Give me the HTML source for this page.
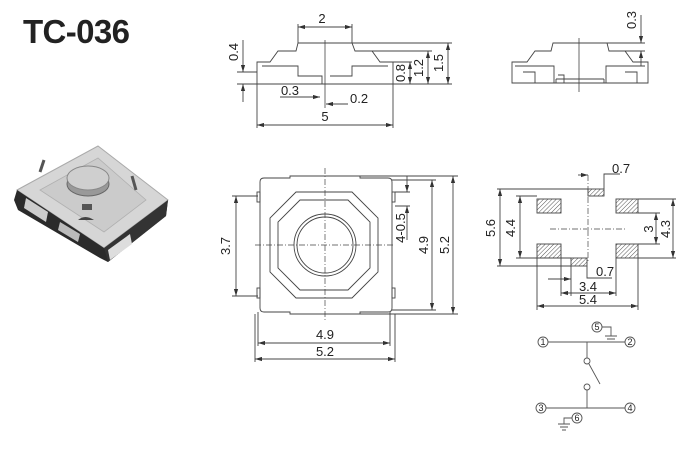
<!DOCTYPE html>
<html><head><meta charset="utf-8"><style>
html,body{margin:0;padding:0;background:#fff;}
svg{display:block;}
text{font-family:"Liberation Sans",sans-serif;fill:#222;}
</style></head><body>
<svg width="700" height="450" viewBox="0 0 700 450" xmlns="http://www.w3.org/2000/svg">
<defs>
<marker id="a" viewBox="0 0 10 6" refX="10" refY="3" markerWidth="8" markerHeight="5" orient="auto-start-reverse"><path d="M0,0L10,3L0,6z" fill="#333"/></marker>
<pattern id="h" width="3" height="3" patternUnits="userSpaceOnUse" patternTransform="rotate(45)"><rect width="3" height="3" fill="#fff"/><line x1="0" y1="0" x2="0" y2="3" stroke="#555" stroke-width="1"/></pattern>
</defs>
<text x="23" y="43" font-size="33" font-weight="bold" textLength="107" fill="#111">TC-036</text>

<!-- photo -->
<g>
<polygon points="14,200 17,190 98,146 168,200 166,216 108,262 100,258 18,210" fill="#2a2a2a"/>
<polygon points="17,190 98,146 168,200 104,248" fill="#d6d6d6" stroke="#aaa"/>
<polygon points="40,190 98,158 146,200 104,232" fill="#cbcbcb" stroke="#b0b0b0" stroke-width="0.8"/>
<ellipse cx="88" cy="184" rx="21" ry="12" fill="#999" stroke="#666"/>
<ellipse cx="88" cy="178" rx="21" ry="12" fill="#cfcfcf" stroke="#888"/>
<polygon points="104,248 168,200 166,216 108,262" fill="#333"/>
<polygon points="17,190 104,248 108,262 18,206" fill="#2b2b2b"/>
<polygon points="108,250 130,234 132,244 110,260" fill="#ddd"/>
<polygon points="26,198 48,212 46,222 24,208" fill="#ccc"/>
<polygon points="60,222 80,234 78,242 58,230" fill="#bbb"/>
<rect x="82" y="204" width="10" height="6" fill="#555"/>
<path d="M78,220 Q85,214 94,220 Z" fill="#444"/>
<path d="M40,172 L44,160 M132,176 L136,190" stroke="#555" stroke-width="3"/>
</g>

<g stroke="#444" stroke-width="0.9" fill="none">
<!-- side view -->
<path d="M298,43 H352 L355,51 H372 L380,62 H393 V84 H257 V62 H270 L278,51 H296 Z"/>
<path d="M262,66 H298 V76 H322 V84 M388,66 H352 V76 H330"/>
<path d="M352,43 H452 M372,51 H432 M393,62 H412 M393,84 H452"/>
<line x1="325" y1="40" x2="325" y2="108" stroke-width="0.8"/>
<line x1="298" y1="24" x2="298" y2="43"/><line x1="352" y1="24" x2="352" y2="43"/>
<line x1="298" y1="27" x2="352" y2="27" marker-start="url(#a)" marker-end="url(#a)"/>
<line x1="448" y1="43" x2="448" y2="84" marker-start="url(#a)" marker-end="url(#a)"/>
<line x1="428" y1="51" x2="428" y2="84" marker-start="url(#a)" marker-end="url(#a)"/>
<line x1="410" y1="62" x2="410" y2="84" marker-start="url(#a)" marker-end="url(#a)"/>
<path d="M237,72 H257 M237,84 H257"/>
<line x1="243" y1="40" x2="243" y2="72" marker-end="url(#a)"/>
<line x1="243" y1="102" x2="243" y2="84" marker-end="url(#a)"/>
<line x1="280" y1="97" x2="320" y2="97" marker-end="url(#a)"/>
<line x1="348" y1="104" x2="326" y2="104" marker-end="url(#a)"/>
<line x1="257" y1="84" x2="257" y2="128"/><line x1="393" y1="84" x2="393" y2="128"/>
<line x1="257" y1="125" x2="393" y2="125" marker-start="url(#a)" marker-end="url(#a)"/>

<!-- right side view -->
<path d="M553,43 H607 L609,51 H625 L633,62 H648 V83 H512 V62 H527 L535,51 H551 Z"/>
<path d="M515,66 H554 V83 M645,66 H606 V83 M523,72 H535 V83 M625,72 H637 V83 M556,79 H604 M556,83 V79 M604,83 V79 M558,75 H564 V83"/>
<line x1="579" y1="38" x2="579" y2="92" stroke-width="0.8"/>
<path d="M607,43 H645 M625,51 H645"/>
<line x1="641" y1="15" x2="641" y2="43" marker-end="url(#a)"/>
<line x1="641" y1="66" x2="641" y2="51" marker-end="url(#a)"/>

<!-- top view -->
<path d="M264,178 H290 V176 H360 V178 H388 Q392,178 392,182 V308 Q392,312 388,312 H360 V314 H290 V312 H264 Q260,312 260,308 V182 Q260,178 264,178 Z"/>
<rect x="257" y="192" width="3" height="10"/><rect x="257" y="288" width="3" height="10"/>
<rect x="392" y="192" width="3" height="10"/><rect x="392" y="288" width="3" height="10"/>
<polygon points="296,192 352,192 378,218 378,272 352,298 296,298 270,272 270,218"/>
<polygon points="300,200 348,200 370,222 370,268 348,290 300,290 278,268 278,222"/>
<circle cx="325" cy="245" r="31"/><circle cx="325" cy="245" r="28"/>
<path d="M325,168 V322 M255,245 H395" stroke-dasharray="6,2,1,2" stroke-width="0.7"/>
<path d="M232,196 H258 M232,296 H258"/>
<line x1="236" y1="196" x2="236" y2="296" marker-start="url(#a)" marker-end="url(#a)"/>
<path d="M392,180 H436 M392,310 H436 M360,176 H458 M360,314 H458 M395,192 H410 M395,206 H410"/>
<line x1="432" y1="180" x2="432" y2="310" marker-start="url(#a)" marker-end="url(#a)"/>
<line x1="453" y1="176" x2="453" y2="314" marker-start="url(#a)" marker-end="url(#a)"/>
<line x1="407" y1="176" x2="407" y2="192" marker-end="url(#a)"/>
<line x1="407" y1="240" x2="407" y2="206" marker-end="url(#a)"/>
<path d="M258,312 V346 M390,312 V346 M255,314 V362 M395,314 V362"/>
<line x1="258" y1="343" x2="390" y2="343" marker-start="url(#a)" marker-end="url(#a)"/>
<line x1="255" y1="359" x2="395" y2="359" marker-start="url(#a)" marker-end="url(#a)"/>

<!-- footprint -->
<g fill="url(#h)">
<rect x="537" y="199" width="24" height="14"/><rect x="616" y="199" width="22" height="14"/>
<rect x="537" y="244" width="24" height="14"/><rect x="616" y="244" width="22" height="14"/>
<rect x="588" y="189" width="16" height="7"/><rect x="571" y="258" width="16" height="8"/>
</g>
<path d="M588,175 V262 M550,229 H625" stroke-dasharray="6,2,1,2" stroke-width="0.7"/>
<path d="M497,189 H588 M516,196 H537 M516,258 H571 M497,266 H571 M638,199 H676 M638,213 H660 M638,244 H660 M638,258 H676"/>
<path d="M604,189 V174 H620 M571,266 V296 M587,266 V278 H612 M537,258 V310 M561,258 V296 M616,258 V296 M638,258 V310"/>
<line x1="500" y1="189" x2="500" y2="266" marker-start="url(#a)" marker-end="url(#a)"/>
<line x1="520" y1="196" x2="520" y2="258" marker-start="url(#a)" marker-end="url(#a)"/>
<line x1="673" y1="199" x2="673" y2="258" marker-start="url(#a)" marker-end="url(#a)"/>
<line x1="656" y1="213" x2="656" y2="244" marker-start="url(#a)" marker-end="url(#a)"/>
<line x1="578" y1="175" x2="588" y2="175" marker-end="url(#a)"/>
<line x1="548" y1="279" x2="571" y2="279" marker-end="url(#a)"/>
<line x1="561" y1="293" x2="616" y2="293" marker-start="url(#a)" marker-end="url(#a)"/>
<line x1="537" y1="306" x2="638" y2="306" marker-start="url(#a)" marker-end="url(#a)"/>

<!-- schematic -->
<g stroke="#555">
<circle cx="543" cy="342" r="5"/><circle cx="630" cy="342" r="5"/>
<circle cx="541" cy="408" r="5"/><circle cx="630" cy="408" r="5"/>
<circle cx="597" cy="327" r="5"/><circle cx="577" cy="418" r="5"/>
<path d="M548,342 H625 M546,408 H625 M587,342 V358 M587,390 V408"/>
<circle cx="587" cy="361" r="3"/><circle cx="587" cy="387" r="3"/>
<path d="M589,364 L600,384"/>
<path d="M602,327 H611 V336 M605,336 H617 M607,339 H615 M609,342 H613"/>
<path d="M572,418 H564 V424 M558,424 H570 M560,427 H568 M562,430 H566"/>
</g>
</g>

<g font-size="13">
<text x="322" y="23" text-anchor="middle">2</text>
<text x="290" y="95" text-anchor="middle">0.3</text>
<text x="350" y="103">0.2</text>
<text x="325" y="121" text-anchor="middle">5</text>
<text transform="translate(238,52) rotate(-90)" text-anchor="middle">0.4</text>
<text transform="translate(443,63) rotate(-90)" text-anchor="middle">1.5</text>
<text transform="translate(423,68) rotate(-90)" text-anchor="middle">1.2</text>
<text transform="translate(405,73) rotate(-90)" text-anchor="middle">0.8</text>
<text transform="translate(636,20) rotate(-90)" text-anchor="middle">0.3</text>
<text transform="translate(230,246) rotate(-90)" text-anchor="middle">3.7</text>
<text transform="translate(405,228) rotate(-90)" text-anchor="middle">4-0.5</text>
<text transform="translate(428,245) rotate(-90)" text-anchor="middle">4.9</text>
<text transform="translate(449,245) rotate(-90)" text-anchor="middle">5.2</text>
<text x="325" y="339" text-anchor="middle">4.9</text>
<text x="325" y="356" text-anchor="middle">5.2</text>
<text x="612" y="173">0.7</text>
<text x="596" y="276">0.7</text>
<text x="588" y="291" text-anchor="middle">3.4</text>
<text x="588" y="304" text-anchor="middle">5.4</text>
<text transform="translate(495,228) rotate(-90)" text-anchor="middle">5.6</text>
<text transform="translate(515,228) rotate(-90)" text-anchor="middle">4.4</text>
<text transform="translate(653,229) rotate(-90)" text-anchor="middle">3</text>
<text transform="translate(670,229) rotate(-90)" text-anchor="middle">4.3</text>
</g>
<g font-size="9" text-anchor="middle">
<text x="543" y="345">1</text><text x="630" y="345">2</text>
<text x="541" y="411">3</text><text x="630" y="411">4</text>
<text x="597" y="330">5</text><text x="577" y="421">6</text>
</g>
</svg>
</body></html>
